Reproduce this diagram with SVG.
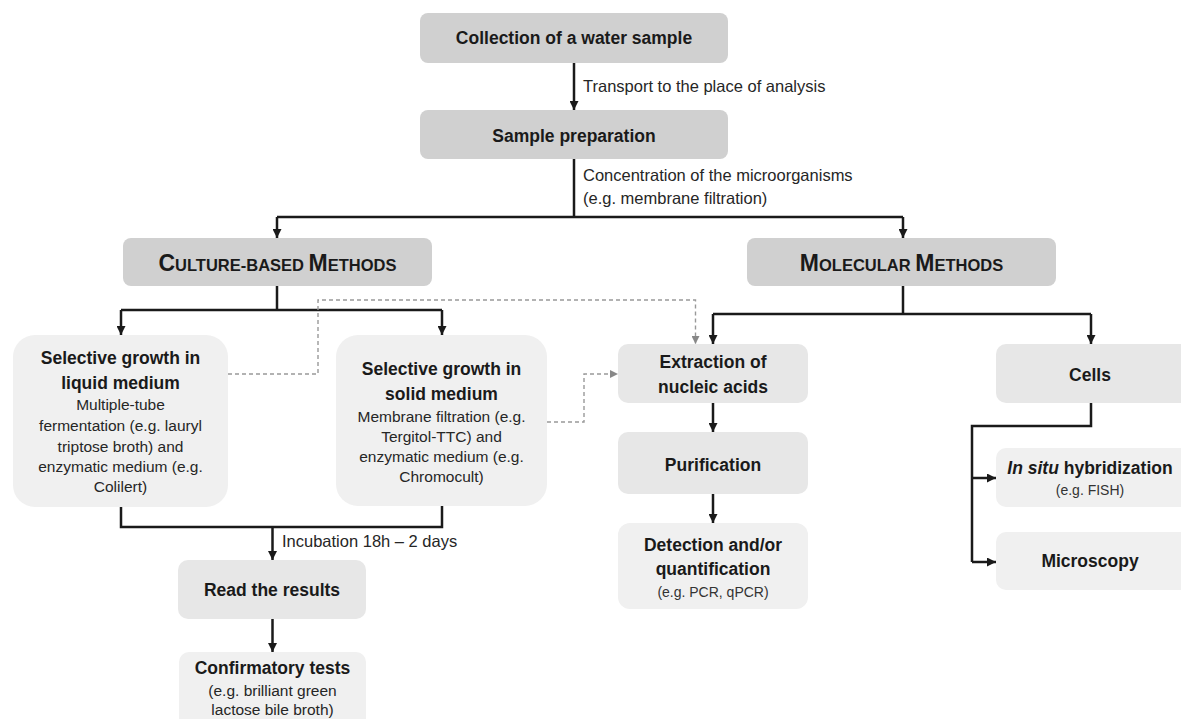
<svg xmlns="http://www.w3.org/2000/svg" width="1181" height="719" viewBox="0 0 1181 719">
<defs>
<style>
.dk{fill:#d0d0d0}
.md{fill:#e7e7e7}
.lt{fill:#f0f0f0}
text{font-family:"Liberation Sans",Arial,sans-serif;fill:#1a1a1a}
.b{font-weight:bold;font-size:17.5px;text-anchor:middle}
.r{font-size:15.5px;text-anchor:middle;fill:#262626}
.s{font-size:14px;text-anchor:middle;fill:#333}
.lbl{font-size:16.5px;fill:#262626}
.ln{fill:none;stroke:#1a1a1a;stroke-width:2.5}
.dash{fill:none;stroke:#999;stroke-width:1.4;stroke-dasharray:4 3}
</style>
<marker id="ah" viewBox="0 0 10 10" refX="10" refY="5" markerWidth="9" markerHeight="9" markerUnits="userSpaceOnUse" orient="auto">
<path d="M0,0 L10,5 L0,10 z" fill="#1a1a1a"/>
</marker>
<marker id="gh" viewBox="0 0 10 10" refX="10" refY="5" markerWidth="8" markerHeight="8" markerUnits="userSpaceOnUse" orient="auto">
<path d="M0,0 L10,5 L0,10 z" fill="#888"/>
</marker>
</defs>
<rect width="1181" height="719" fill="#ffffff"/>

<g id="connectors">
<path class="ln" d="M574 63 V110" marker-end="url(#ah)"/>
<path class="ln" d="M574 159 V217"/>
<path class="ln" d="M277 217 H903"/>
<path class="ln" d="M277 217 V238" marker-end="url(#ah)"/>
<path class="ln" d="M903 217 V238" marker-end="url(#ah)"/>
<path class="ln" d="M277 286 V310"/>
<path class="ln" d="M121 310 H442"/>
<path class="ln" d="M121 310 V335" marker-end="url(#ah)"/>
<path class="ln" d="M442 310 V335" marker-end="url(#ah)"/>
<path class="ln" d="M903 286 V314"/>
<path class="ln" d="M713 314 H1091"/>
<path class="ln" d="M713 314 V344" marker-end="url(#ah)"/>
<path class="ln" d="M1091 314 V344" marker-end="url(#ah)"/>
<path class="ln" d="M121 507 V527 H442 V506"/>
<path class="ln" d="M272.5 527 V560" marker-end="url(#ah)"/>
<path class="ln" d="M272.5 619 V652" marker-end="url(#ah)"/>
<path class="ln" d="M713 403 V432" marker-end="url(#ah)"/>
<path class="ln" d="M713 494 V523" marker-end="url(#ah)"/>
<path class="ln" d="M1091 403 V426 H972 V562"/>
<path class="ln" d="M972 478 H996" marker-end="url(#ah)"/>
<path class="ln" d="M972 562 H996" marker-end="url(#ah)"/>
<path class="dash" d="M228 374 H318 V300 H695.5 V344" marker-end="url(#gh)"/>
<path class="dash" d="M547 422 H584 V374 H618" marker-end="url(#gh)"/>
<text class="lbl" x="583" y="92">Transport to the place of analysis</text>
<text class="lbl" x="583" y="181">Concentration of the microorganisms</text>
<text class="lbl" x="583" y="204">(e.g. membrane filtration)</text>
<text class="lbl" x="282" y="547">Incubation 18h – 2 days</text>
</g>

<g id="collection">
<rect class="dk" x="420" y="13" width="308" height="50" rx="8"/>
<text class="b" x="574" y="44">Collection of a water sample</text>
</g>

<g id="sample-prep">
<rect class="dk" x="420" y="110" width="308" height="49" rx="8"/>
<text class="b" x="574" y="142">Sample preparation</text>
</g>

<g id="culture">
<rect class="dk" x="123" y="238" width="309" height="48" rx="8"/>
<text x="277.5" y="271" style="font-weight:bold;text-anchor:middle"><tspan font-size="23">C</tspan><tspan font-size="16.5">ULTURE-BASED </tspan><tspan font-size="23">M</tspan><tspan font-size="16.5">ETHODS</tspan></text>
</g>

<g id="molecular">
<rect class="dk" x="747" y="238" width="309" height="48" rx="8"/>
<text x="901.5" y="271" style="font-weight:bold;text-anchor:middle"><tspan font-size="23">M</tspan><tspan font-size="16.5">OLECULAR </tspan><tspan font-size="23">M</tspan><tspan font-size="16.5">ETHODS</tspan></text>
</g>

<g id="liquid">
<rect class="lt" x="13" y="335" width="215" height="172" rx="22"/>
<text class="b" x="120.5" y="364" font-size="18">Selective growth in</text>
<text class="b" x="120.5" y="389" font-size="18">liquid medium</text>
<text class="r" x="120.5" y="410">Multiple-tube</text>
<text class="r" x="120.5" y="431">fermentation (e.g. lauryl</text>
<text class="r" x="120.5" y="452">triptose broth) and</text>
<text class="r" x="120.5" y="472">enzymatic medium (e.g.</text>
<text class="r" x="120.5" y="492">Colilert)</text>
</g>

<g id="solid">
<rect class="lt" x="336" y="335" width="211" height="171" rx="22"/>
<text class="b" x="441.5" y="375" font-size="18">Selective growth in</text>
<text class="b" x="441.5" y="400" font-size="18">solid medium</text>
<text class="r" x="441.5" y="422">Membrane filtration (e.g.</text>
<text class="r" x="441.5" y="442">Tergitol-TTC) and</text>
<text class="r" x="441.5" y="462">enzymatic medium (e.g.</text>
<text class="r" x="441.5" y="482">Chromocult)</text>
</g>

<g id="read">
<rect class="md" x="178" y="560" width="188" height="59" rx="10"/>
<text class="b" x="272" y="596">Read the results</text>
</g>

<g id="confirmatory">
<rect class="lt" x="179" y="652" width="187" height="80" rx="10"/>
<text class="b" x="272.5" y="674" font-size="18">Confirmatory tests</text>
<text class="r" x="272.5" y="696" font-size="15">(e.g. brilliant green</text>
<text class="r" x="272.5" y="715" font-size="15">lactose bile broth)</text>
</g>

<g id="extraction">
<rect class="md" x="618" y="344" width="190" height="59" rx="10"/>
<text class="b" x="713" y="368">Extraction of</text>
<text class="b" x="713" y="393">nucleic acids</text>
</g>

<g id="purification">
<rect class="md" x="618" y="432" width="190" height="62" rx="10"/>
<text class="b" x="713" y="471">Purification</text>
</g>

<g id="detection">
<rect class="lt" x="618" y="523" width="190" height="86" rx="12"/>
<text class="b" x="713" y="551" font-size="18">Detection and/or</text>
<text class="b" x="713" y="575" font-size="18">quantification</text>
<text class="s" x="713" y="597">(e.g. PCR, qPCR)</text>
</g>

<g id="cells">
<rect class="md" x="996" y="344" width="200" height="59" rx="10"/>
<text class="b" x="1090" y="381" font-size="16">Cells</text>
</g>

<g id="insitu">
<rect class="lt" x="996" y="448" width="200" height="59" rx="10"/>
<text class="b" x="1090" y="474" font-size="16"><tspan font-style="italic">In situ</tspan> hybridization</text>
<text class="s" x="1090" y="495">(e.g. FISH)</text>
</g>

<g id="microscopy">
<rect class="lt" x="996" y="532" width="200" height="58" rx="10"/>
<text class="b" x="1090" y="567" font-size="16">Microscopy</text>
</g>
</svg>
